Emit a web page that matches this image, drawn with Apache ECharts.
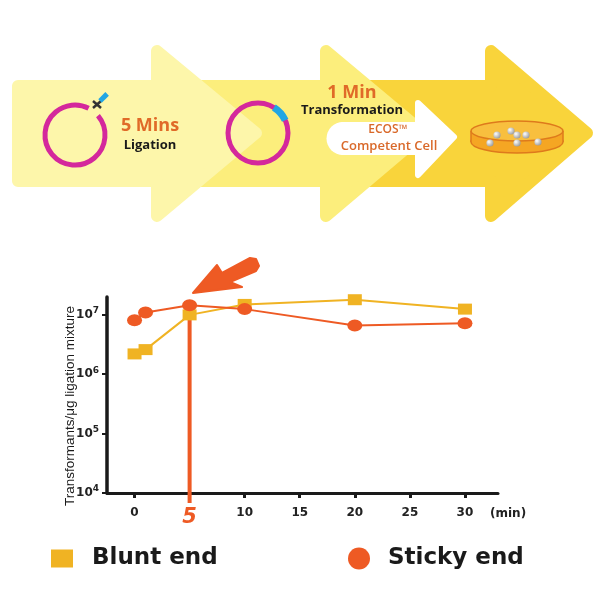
<!DOCTYPE html>
<html>
<head>
<meta charset="utf-8">
<script src="https://cdn.jsdelivr.net/npm/echarts@6/dist/echarts.min.js"></script>
<style>
	html, body { margin: 0; padding: 0; background: #fff; }
	#main { width: 600px; height: 600px; }
</style>
</head>
<body>
<div id="main"></div>
<script>
// ligation time vs transformation efficiency
var minutes = [0, 1, 5, 10, 20, 30];
var bluntVals = [2.2e6, 2.6e6, 1.0e7, 1.5e7, 1.8e7, 1.25e7];
var stickyVals = [8.1e6, 1.1e7, 1.45e7, 1.25e7, 6.6e6, 7.2e6];
var xTicks = [0, 5, 10, 15, 20, 25, 30];
var yTicks = [1e4, 1e5, 1e6, 1e7];

var blunt = [], sticky = [];
for (var i = 0; i < minutes.length; i++) {
	blunt.push([minutes[i], bluntVals[i]]);
	sticky.push([minutes[i], stickyVals[i]]);
}

// big arrows on top
function bigArrow(x0, xb, xt, color) {
	return {
		type: 'polygon',
		shape: {
			points: [[x0, 86], [xb, 86], [xb, 51], [xt, 133], [xb, 216], [xb, 181], [x0, 181]]
		},
		style: { fill: color, stroke: color, lineWidth: 12, lineJoin: 'round' }
	};
}

var ball = function (x, y) {
	return {
		type: 'circle',
		shape: { cx: x, cy: y, r: 3.6 },
		style: {
			fill: new echarts.graphic.RadialGradient(0.35, 0.35, 0.7, [
				{ offset: 0, color: '#ffffff' }, { offset: 1, color: '#9a9a9a' }
			])
		}
	};
};

var chart = echarts.init(document.getElementById('main'));
var option = {
	backgroundColor: '#fff',
	animation: false,
	textStyle: { fontFamily: 'DejaVu Sans' },
	grid: { left: 107, right: 102, top: 297, bottom: 107 },
	legend: [{
		left: 46, top: 542,
		icon: 'rect', itemWidth: 22, itemHeight: 18,
		data: ['Blunt end'],
		textStyle: { fontFamily: 'DejaVu Sans', fontWeight: 'bold', fontSize: 23, color: '#1a1a1a', padding: [0, 0, 0, 14] }
	}, {
		left: 343, top: 542,
		icon: 'circle', itemWidth: 24, itemHeight: 22,
		data: ['Sticky end'],
		textStyle: { fontFamily: 'DejaVu Sans', fontWeight: 'bold', fontSize: 23, color: '#1a1a1a', padding: [0, 0, 0, 12] }
	}],
	xAxis: {
		type: 'value', min: -2.5, max: 33,
		splitLine: { show: false },
		axisLine: { lineStyle: { color: '#1a1a1a', width: 3 } },
		axisTick: { show: true, customValues: xTicks, length: 5, lineStyle: { color: '#1a1a1a', width: 3 } },
		axisLabel: {
			customValues: xTicks, margin: 14, color: '#222', fontSize: 12, fontWeight: 'bold',
			formatter: function (v) { return v === 5 ? '{hl|5}' : String(v); },
			rich: { hl: { color: '#ee5a24', fontSize: 21, fontWeight: 'bold', fontStyle: 'italic' } }
		}
	},
	yAxis: {
		type: 'log', logBase: 10, min: 1e4, max: 2e7,
		splitLine: { show: false },
		axisLine: { show: true, onZero: false, lineStyle: { color: '#1a1a1a', width: 3.5 } },
		axisTick: { show: true, customValues: yTicks, length: 5, lineStyle: { color: '#1a1a1a', width: 2 } },
		axisLabel: {
			customValues: yTicks, margin: 8, color: '#222', fontSize: 12, fontWeight: 'bold',
			formatter: function (v) { return '10{s|' + Math.round(Math.log(v) / Math.LN10) + '}'; },
			rich: { s: { fontSize: 9, fontWeight: 'bold', color: '#222', padding: [0, 0, 8, 0] } }
		}
	},
	series: [{
		name: 'marker',
		type: 'line',
		clip: false,
		symbol: 'none',
		data: [[minutes[2], stickyVals[2]], [minutes[2], 6800]],
		lineStyle: { color: '#ee5a24', width: 4 },
		z: 1
	}, {
		name: 'Blunt end',
		type: 'line',
		data: blunt,
		symbol: 'rect', symbolSize: [14, 11],
		color: '#f0b323',
		itemStyle: { color: '#f0b323' },
		lineStyle: { color: '#f0b323', width: 2 },
		z: 3
	}, {
		name: 'Sticky end',
		type: 'line',
		data: sticky,
		symbol: 'circle', symbolSize: [15, 12],
		color: '#ee5a24',
		itemStyle: { color: '#ee5a24' },
		lineStyle: { color: '#ee5a24', width: 2 },
		z: 4
	}],
	graphic: [
		bigArrow(300, 491, 587, '#f9d43b'),
		bigArrow(150, 326, 424, '#fcee7c'),
		bigArrow(18, 157, 256, '#fdf6aa'),
		// white arrow
		{
			type: 'polygon',
			shape: { points: [[343, 125], [418, 125], [418, 103], [454, 137], [418, 175], [418, 152], [343, 152]] },
			style: { fill: '#fff', stroke: '#fff', lineWidth: 6, lineJoin: 'round' }
		},
		{ type: 'circle', shape: { cx: 343, cy: 138.5, r: 16.5 }, style: { fill: '#fff' } },
		// plasmid 1
		{
			type: 'arc',
			shape: { cx: 75, cy: 135, r: 30, startAngle: -40 * Math.PI / 180, endAngle: 297 * Math.PI / 180, clockwise: true },
			style: { stroke: '#d4289c', lineWidth: 5, fill: null }
		},
		{ type: 'line', shape: { x1: 93, y1: 101, x2: 101, y2: 108 }, style: { stroke: '#333', lineWidth: 2.5 } },
		{ type: 'line', shape: { x1: 93, y1: 108, x2: 101, y2: 101 }, style: { stroke: '#333', lineWidth: 2.5 } },
		{ type: 'rect', x: 105, y: 96, rotation: Math.PI / 4, shape: { x: -7, y: -2.5, width: 10, height: 5 }, style: { fill: '#22a6e3' } },
		// plasmid 2
		{
			type: 'circle', shape: { cx: 258, cy: 133, r: 30 },
			style: { stroke: '#d4289c', lineWidth: 5, fill: null }
		},
		{
			type: 'arc',
			shape: { cx: 258, cy: 133, r: 30, startAngle: -58 * Math.PI / 180, endAngle: -25 * Math.PI / 180, clockwise: true },
			style: { stroke: '#22a6e3', lineWidth: 7, fill: null }
		},
		// texts
		{ type: 'text', x: 150, y: 126, style: { text: '5 Mins', font: 'bold 18px "Open Sans"', fill: '#e06a28', align: 'center', verticalAlign: 'middle' } },
		{ type: 'text', x: 150, y: 145, style: { text: 'Ligation', font: 'bold 13px "Open Sans"', fill: '#1a1a1a', align: 'center', verticalAlign: 'middle' } },
		{ type: 'text', x: 352, y: 93, style: { text: '1 Min', font: 'bold 18px "Open Sans"', fill: '#e06a28', align: 'center', verticalAlign: 'middle' } },
		{ type: 'text', x: 352, y: 110, style: { text: 'Transformation', font: 'bold 13px "Open Sans"', fill: '#1a1a1a', align: 'center', verticalAlign: 'middle' } },
		{ type: 'text', x: 388, y: 130, style: { text: 'ECOS\u2122', font: '600 12px "Open Sans"', fill: '#d9692a', align: 'center', verticalAlign: 'middle' } },
		{ type: 'text', x: 389, y: 146, style: { text: 'Competent Cell', font: '600 13px "Open Sans"', fill: '#d9692a', align: 'center', verticalAlign: 'middle' } },
		// petri dish
		{ type: 'ellipse', shape: { cx: 517, cy: 142, rx: 46, ry: 11 }, style: { fill: '#f5a623', stroke: '#de7a1c', lineWidth: 1.5 } },
		{ type: 'rect', shape: { x: 471, y: 131, width: 92, height: 11 }, style: { fill: '#f5a623' } },
		{ type: 'line', shape: { x1: 471, y1: 131, x2: 471, y2: 142 }, style: { stroke: '#de7a1c', lineWidth: 1.5 } },
		{ type: 'line', shape: { x1: 563, y1: 131, x2: 563, y2: 142 }, style: { stroke: '#de7a1c', lineWidth: 1.5 } },
		{ type: 'ellipse', shape: { cx: 517, cy: 131, rx: 46, ry: 10 }, style: { fill: '#f8bf3e', stroke: '#de7a1c', lineWidth: 1.5 } },
		ball(497, 135), ball(511, 131), ball(517, 135), ball(526, 135),
		ball(490, 143), ball(517, 143), ball(538, 142),
		// pointer arrow
		{
			type: 'polygon',
			shape: { points: [[193, 293], [217, 265], [222, 273], [250, 258], [256, 259], [259, 266], [256, 271], [230, 282], [242, 287]] },
			style: { fill: '#ee5a24', stroke: '#ee5a24', lineWidth: 2, lineJoin: 'round' }
		},
		// axis unit
		{ type: 'text', x: 490, y: 514, style: { text: '(min)', font: 'bold 12px "DejaVu Sans"', fill: '#222', align: 'left', verticalAlign: 'middle' } },
		// y axis title
		{
			type: 'text', x: 70, y: 406, rotation: Math.PI / 2,
			style: { text: 'Transformants/\u03bcg ligation mixture', font: '13.5px "Liberation Sans", sans-serif', fill: '#1a1a1a', align: 'center', verticalAlign: 'middle' }
		}
	]
};
chart.setOption(option);
</script>
</body>
</html>
